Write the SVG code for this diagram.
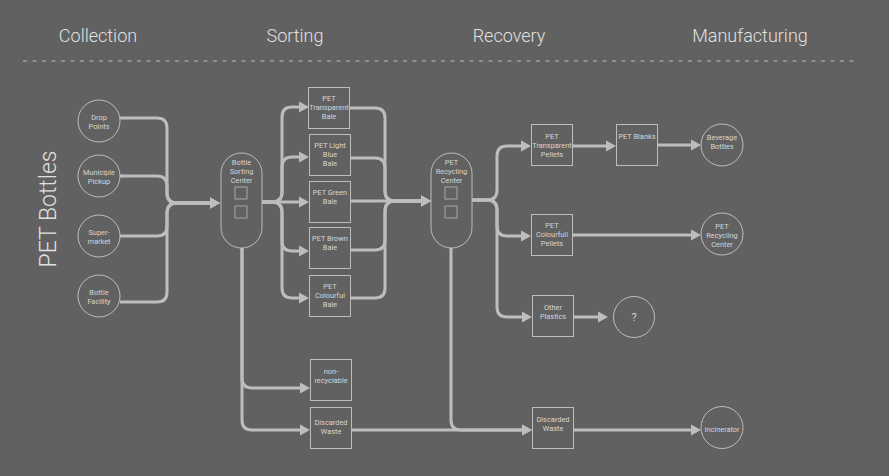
<svg xmlns="http://www.w3.org/2000/svg" width="889" height="476" viewBox="0 0 889 476">
<defs>
<marker id="ah" markerUnits="userSpaceOnUse" markerWidth="11" markerHeight="12" refX="3" refY="6" orient="auto">
<path d="M0,0.5 L10,6 L0,11.5 z" fill="#bdbdbd"/>
</marker>
<style>
.bg{fill:#616161}
.hdr{font-family:Roboto,"Liberation Sans",sans-serif;font-weight:300;font-size:18px;fill:#e0e0e0;text-anchor:middle}
.big{font-family:Roboto,"Liberation Sans",sans-serif;font-weight:300;font-size:23px;fill:#e0e0e0;text-anchor:middle}
.n{fill:#616161;stroke:#bdbdbd;stroke-width:1}
.sq{fill:none;stroke:#a8a8a8;stroke-width:1}
.t{font-family:Roboto,"Liberation Sans",sans-serif;font-size:7.4px;fill:#d6d6d6;text-anchor:middle}
.c path{fill:none;stroke:#bdbdbd;stroke-width:3;marker-end:url(#ah)}
.dash{stroke:#bdbdbd;stroke-width:1;stroke-dasharray:4 5.5}
</style>
</defs>
<rect class="bg" x="0" y="0" width="889" height="476"/>
<g id="headers">
<text class="hdr" x="98" y="42">Collection</text>
<text class="hdr" x="295" y="42">Sorting</text>
<text class="hdr" x="509" y="42">Recovery</text>
<text class="hdr" x="750" y="42">Manufacturing</text>
<line class="dash" x1="23" y1="61" x2="855" y2="61"/>
</g>
<text class="big" transform="translate(56,209) rotate(-90)">PET Bottles</text>
<g class="c" id="connectors">
<path d="M120,118 H157 Q167,118 167,128 V193 Q167,203 177,203 H213"/>
<path d="M120,176 H157 Q167,176 167,186 V193 Q167,203 177,203 H213"/>
<path d="M120,236 H157 Q167,236 167,226 V213 Q167,203 177,203 H213"/>
<path d="M120,302 H157 Q167,302 167,292 V213 Q167,203 177,203 H213"/>
<path d="M262,202 H272 Q282,202 282,192 V117 Q282,107 292,107 H302"/>
<path d="M262,202 H272 Q282,202 282,192 V167 Q282,157 292,157 H302"/>
<path d="M262,202 H302"/>
<path d="M262,202 H272 Q282,202 282,212 V241 Q282,251 292,251 H302"/>
<path d="M262,202 H272 Q282,202 282,212 V288 Q282,298 292,298 H302"/>
<path d="M350,108 H375 Q385,108 385,118 V191 Q385,201 395,201 H424"/>
<path d="M350,158 H375 Q385,158 385,168 V191 Q385,201 395,201 H424"/>
<path d="M350,201 H424"/>
<path d="M350,250 H375 Q385,250 385,240 V211 Q385,201 395,201 H424"/>
<path d="M350,298 H375 Q385,298 385,288 V211 Q385,201 395,201 H424"/>
<path d="M472,200 H487 Q497,200 497,190 V156 Q497,146 507,146 H524"/>
<path d="M472,200 H487 Q497,200 497,210 V226 Q497,236 507,236 H524"/>
<path d="M472,200 H487 Q497,200 497,210 V307 Q497,317 507,317 H525"/>
<path d="M572,146 H609"/>
<path d="M657,145 H694"/>
<path d="M572,235 H694"/>
<path d="M573,317 H601"/>
<path d="M242,248 V378 Q242,388 252,388 H303"/>
<path d="M242,248 V420 Q242,430 252,430 H303"/>
<path d="M351,430 H525"/>
<path d="M451,248 V420 Q451,430 461,430 H525"/>
<path d="M573,430 H694"/>
</g>
<g id="drop-points"><circle class="n" cx="99" cy="121" r="21"/><text class="t" x="99" y="120">Drop</text><text class="t" x="99" y="129">Points</text></g>
<g id="municiple-pickup"><circle class="n" cx="99" cy="176" r="21"/><text class="t" x="99" y="175">Municiple</text><text class="t" x="99" y="184">Pickup</text></g>
<g id="supermarket"><circle class="n" cx="99" cy="236" r="21"/><text class="t" x="99" y="235">Super-</text><text class="t" x="99" y="244">market</text></g>
<g id="bottle-facility"><circle class="n" cx="99" cy="296" r="21"/><text class="t" x="99" y="295">Bottle</text><text class="t" x="99" y="304">Facility</text></g>
<g id="bottle-sorting-center"><rect class="n" x="221" y="153" width="41" height="95" rx="20.5"/><text class="t" x="241.5" y="165">Bottle</text><text class="t" x="241.5" y="174">Sorting</text><text class="t" x="241.5" y="183">Center</text><rect class="sq" x="235" y="187" width="12" height="12"/><rect class="sq" x="235" y="206" width="12" height="12"/></g>
<g id="pet-transparent-bale"><rect class="n" x="308.5" y="87.5" width="41" height="41"/><text class="t" x="329" y="101">PET</text><text class="t" x="329" y="110">Transparent</text><text class="t" x="329" y="119">Bale</text></g>
<g id="pet-light-blue-bale"><rect class="n" x="309.5" y="134.5" width="41" height="41"/><text class="t" x="330" y="148">PET Light</text><text class="t" x="330" y="157">Blue</text><text class="t" x="330" y="166">Bale</text></g>
<g id="pet-green-bale"><rect class="n" x="309.5" y="181.5" width="41" height="41"/><text class="t" x="330" y="195">PET Green</text><text class="t" x="330" y="204">Bale</text></g>
<g id="pet-brown-bale"><rect class="n" x="309.5" y="227.5" width="41" height="41"/><text class="t" x="330" y="241">PET Brown</text><text class="t" x="330" y="250">Bale</text></g>
<g id="pet-colourful-bale"><rect class="n" x="309.5" y="275.5" width="41" height="41"/><text class="t" x="330" y="289">PET</text><text class="t" x="330" y="298">Colourful</text><text class="t" x="330" y="307">Bale</text></g>
<g id="non-recyclable"><rect class="n" x="310.5" y="359.5" width="41" height="41"/><text class="t" x="331" y="374">non-</text><text class="t" x="331" y="383">recyclable</text></g>
<g id="discarded-waste-sorting"><rect class="n" x="310.5" y="407.5" width="41" height="41"/><text class="t" x="331" y="424.5">Discarded</text><text class="t" x="331" y="433.5">Waste</text></g>
<g id="pet-recycling-center"><rect class="n" x="431" y="153" width="41" height="95" rx="20.5"/><text class="t" x="451.5" y="165">PET</text><text class="t" x="451.5" y="174">Recycling</text><text class="t" x="451.5" y="183">Center</text><rect class="sq" x="445" y="187" width="12" height="12"/><rect class="sq" x="445" y="206" width="12" height="12"/></g>
<g id="pet-transparent-pellets"><rect class="n" x="531.5" y="124.5" width="41" height="41"/><text class="t" x="552" y="139">PET</text><text class="t" x="552" y="148">Transparent</text><text class="t" x="552" y="157">Pellets</text></g>
<g id="pet-colourfull-pellets"><rect class="n" x="531.5" y="214.5" width="41" height="41"/><text class="t" x="552" y="228">PET</text><text class="t" x="552" y="237">Colourfull</text><text class="t" x="552" y="246">Pellets</text></g>
<g id="other-plastics"><rect class="n" x="532.5" y="295.5" width="41" height="41"/><text class="t" x="553" y="310">Other</text><text class="t" x="553" y="319">Plastics</text></g>
<g id="discarded-waste-recovery"><rect class="n" x="532.5" y="407.5" width="41" height="41"/><text class="t" x="553" y="422">Discarded</text><text class="t" x="553" y="431">Waste</text></g>
<g id="pet-blanks"><rect class="n" x="616.5" y="124.5" width="41" height="41"/><text class="t" x="637" y="139">PET Blanks</text></g>
<g id="beverage-bottles"><circle class="n" cx="722" cy="145" r="21"/><text class="t" x="722" y="140">Beverage</text><text class="t" x="722" y="149">Bottles</text></g>
<g id="pet-recycling-center-2"><circle class="n" cx="722" cy="234" r="21"/><text class="t" x="722" y="229">PET</text><text class="t" x="722" y="238">Recycling</text><text class="t" x="722" y="247">Center</text></g>
<g id="unknown"><circle class="n" cx="634" cy="317" r="20.5"/><text class="t" x="634" y="321" style="font-size:11px">?</text></g>
<g id="incinerator"><circle class="n" cx="722" cy="427.5" r="21"/><text class="t" x="722" y="432">Incinerator</text></g>
</svg>
